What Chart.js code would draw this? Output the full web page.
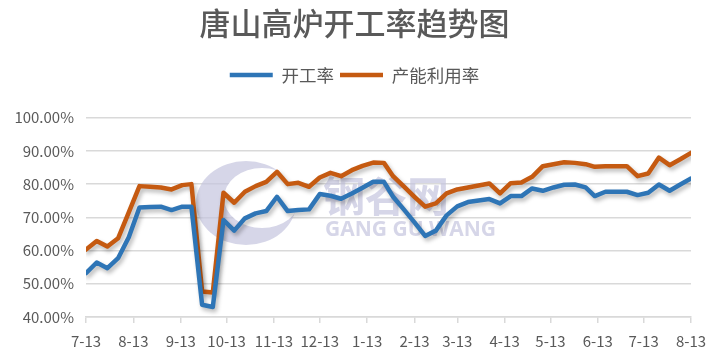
<!DOCTYPE html>
<html>
<head>
<meta charset="utf-8">
<script src="https://cdn.jsdelivr.net/npm/chart.js@4"></script>
<style>
  html, body { margin: 0; padding: 0; background: #fff; }
  #wrap { width: 711px; height: 355px; }
</style>
</head>
<body>
<div id="wrap"><canvas id="myChart" width="711" height="355"></canvas></div>
<script>
// day offsets from 7-13 (roughly weekly)
const days = [0, 7, 14, 21, 28, 35, 42, 49, 56, 63, 69, 76, 83, 90, 97, 104, 111, 118, 125, 132,
  139, 146, 153, 160, 167, 174, 181, 188, 195, 201, 208, 215, 222, 229, 236, 243, 250, 257, 264, 271,
  278, 285, 292, 299, 306, 313, 320, 327, 333, 340, 347, 354, 361, 368, 375, 382, 389, 396];

// 开工率
const kaigong = [53.2, 56.4, 54.7, 57.7, 64.0, 73.0, 73.1, 73.2, 72.2, 73.2, 73.2, 43.7, 43.0, 69.2, 66.0, 69.7, 71.2, 71.9, 76.2, 71.9,
  72.2, 72.4, 77.0, 76.5, 75.6, 77.2, 78.9, 80.7, 80.7, 76.2, 72.4, 68.5, 64.4, 66.0, 70.6, 73.3, 74.6, 75.1, 75.5, 74.2,
  76.4, 76.4, 78.7, 78.0, 79.0, 79.8, 79.9, 79.0, 76.4, 77.7, 77.7, 77.7, 76.7, 77.4, 79.9, 78.0, 79.9, 81.7];

// 产能利用率
const channeng = [60.3, 62.9, 61.2, 63.7, 71.5, 79.4, 79.2, 79.0, 78.4, 79.7, 80.0, 47.7, 47.4, 77.4, 74.4, 77.7, 79.4, 80.7, 83.7, 80.0,
  80.4, 79.2, 82.0, 83.4, 82.4, 84.2, 85.5, 86.5, 86.4, 82.4, 79.3, 76.2, 73.2, 74.2, 77.2, 78.4, 79.0, 79.6, 80.2, 77.2,
  80.3, 80.5, 82.2, 85.4, 86.0, 86.6, 86.4, 86.0, 85.2, 85.4, 85.4, 85.4, 82.4, 83.2, 88.0, 85.7, 87.5, 89.4];

// month ticks on the x axis
const monthDays = [0, 31, 62, 92, 123, 153, 184, 215, 243, 274, 304, 335, 365, 396];
const monthLabels = ['7-13', '8-13', '9-13', '10-13', '11-13', '12-13', '1-13', '2-13', '3-13', '4-13', '5-13', '6-13', '7-13', '8-13'];

const textGray = '#595959';
const cjk = "'Noto Sans CJK SC', 'Noto Sans', sans-serif";

const toPoints = (vals) => vals.map((v, i) => ({ x: days[i], y: v }));

// faint site watermark behind the lines
const watermark = {
  id: 'watermark',
  beforeDatasetsDraw(chart) {
    const ctx = chart.ctx;
    ctx.save();
    ctx.fillStyle = 'rgba(196, 196, 222, 0.7)';
    ctx.beginPath();
    ctx.ellipse(246, 203, 50, 42, 0, 0, Math.PI * 2);
    ctx.fill();
    ctx.fillStyle = '#ffffff';
    ctx.beginPath();
    ctx.ellipse(262, 198, 38, 30, 0, 0, Math.PI * 2);
    ctx.fill();
    ctx.fillStyle = 'rgba(196, 196, 222, 0.7)';
    ctx.font = "bold 42px " + cjk;
    ctx.textBaseline = 'middle';
    ctx.fillText('钢谷网', 323, 196);
    ctx.font = "bold 21px 'Open Sans', sans-serif";
    ctx.fillText('GANG GU WANG', 325, 230);
    ctx.restore();
  }
};

// soft drop shadow under each line, like the office chart
const lineShadow = {
  id: 'lineShadow',
  beforeDatasetDraw(chart) {
    const ctx = chart.ctx;
    ctx.save();
    ctx.shadowColor = 'rgba(0, 0, 0, 0.28)';
    ctx.shadowBlur = 4;
    ctx.shadowOffsetX = 2;
    ctx.shadowOffsetY = 3;
  },
  afterDatasetDraw(chart) {
    chart.ctx.restore();
  }
};

// extra room between the legend and the plot
const legendGap = {
  id: 'legendGap',
  beforeInit(chart) {
    const fit = chart.legend.fit;
    chart.legend.fit = function () {
      fit.call(this);
      this.height += 24;
    };
  },
  // title and legend sit centred on the whole picture, not the plot box
  afterLayout(chart) {
    [chart.titleBlock, chart.legend].forEach(b => {
      b.left += 9;
      b.right += 9;
    });
  }
};

new Chart(document.getElementById('myChart'), {
  type: 'line',
  data: {
    datasets: [{
      label: '开工率',
      data: toPoints(kaigong),
      borderColor: '#2E75B6',
      backgroundColor: '#2E75B6',
      borderWidth: 4.5,
      borderJoinStyle: 'round',
      borderCapStyle: 'round',
      pointRadius: 0,
      pointStyle: 'line',
      tension: 0
    }, {
      label: '产能利用率',
      data: toPoints(channeng),
      borderColor: '#C55A11',
      backgroundColor: '#C55A11',
      borderWidth: 4.5,
      borderJoinStyle: 'round',
      borderCapStyle: 'round',
      pointRadius: 0,
      pointStyle: 'line',
      tension: 0
    }]
  },
  options: {
    responsive: false,
    animation: false,
    layout: { padding: { left: 0, right: 20, top: 4, bottom: 0 } },
    plugins: {
      title: {
        display: true,
        text: '唐山高炉开工率趋势图',
        color: textGray,
        font: { family: cjk, size: 31, weight: '500' },
        padding: { top: 1, bottom: 18 }
      },
      legend: {
        display: true,
        position: 'top',
        labels: {
          color: textGray,
          font: { family: cjk, size: 17.5 },
          usePointStyle: true,
          pointStyleWidth: 43,
          boxHeight: 17,
          padding: 6
        }
      },
      tooltip: { enabled: false }
    },
    scales: {
      x: {
        type: 'linear',
        min: 0,
        max: 396,
        afterBuildTicks: (scale) => {
          scale.ticks = monthDays.map(v => ({ value: v }));
        },
        afterFit: (scale) => {
          scale.height = 38;
          scale.paddingLeft = 0;
          scale.paddingRight = 0;
        },
        ticks: {
          color: textGray,
          font: { family: cjk, size: 15 },
          maxRotation: 0,
          autoSkip: false,
          padding: 9,
          callback: (value) => {
            const i = monthDays.indexOf(value);
            return i >= 0 ? monthLabels[i] : '';
          }
        },
        grid: {
          drawOnChartArea: false,
          drawTicks: true,
          tickLength: 6,
          color: '#d9d9d9',
          lineWidth: 1.5
        },
        border: { color: '#d9d9d9', width: 1.5 }
      },
      y: {
        min: 40,
        max: 100,
        afterFit: (scale) => { scale.width = 86; },
        ticks: {
          stepSize: 10,
          color: textGray,
          font: { family: cjk, size: 15 },
          padding: 12,
          callback: (v) => v.toFixed(2) + '%'
        },
        grid: {
          color: '#d9d9d9',
          lineWidth: 1.5,
          drawTicks: false
        },
        border: { display: false }
      }
    }
  },
  plugins: [watermark, lineShadow, legendGap]
});
</script>
</body>
</html>
